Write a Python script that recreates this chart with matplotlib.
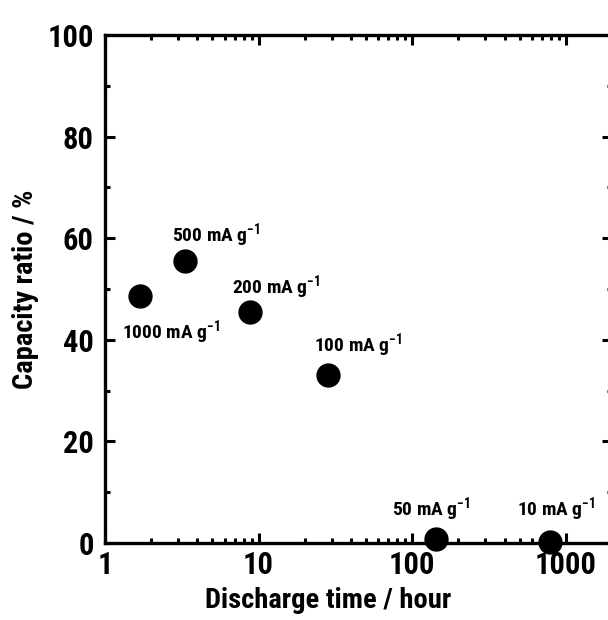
import matplotlib
matplotlib.use('Agg')
import matplotlib.pyplot as plt
from matplotlib.ticker import LogLocator, NullFormatter, FixedLocator

plt.rcParams['font.family'] = ['Roboto Condensed', 'Liberation Sans', 'DejaVu Sans']
plt.rcParams['font.weight'] = 'bold'
plt.rcParams['mathtext.fontset'] = 'custom'
plt.rcParams['mathtext.bf'] = 'Roboto Condensed:bold'
plt.rcParams['mathtext.rm'] = 'Roboto Condensed:bold'
plt.rcParams['mathtext.default'] = 'bf'

# discharge time (h) vs capacity ratio (%)
currents = ['1000', '500', '200', '100', '50', '10']
disch_time = [1.69, 3.3, 8.8, 28.5, 144, 785]
cap_ratio = [48.6, 55.5, 45.5, 33.0, 0.8, 0.2]
# label offsets in pixels from each point
offsets = [(31, -36), (31, 26), (26, 25), (30, 30), (-5, 30), (6, 33)]

fig = plt.figure(figsize=(6.08, 6.2), dpi=100)
ax = fig.add_axes([105/608, 1-543/620, 507/608, 508/620])

ax.plot(disch_time, cap_ratio, 'o', color='black', markersize=16.5, clip_on=False, zorder=5)

for cur, x, y, off in zip(currents, disch_time, cap_ratio, offsets):
    ax.annotate(cur + r' mA g$^{-1}$', (x, y), xytext=off, textcoords='offset pixels',
                ha='center', va='center', fontsize=14, fontweight='bold')

ax.set_xscale('log')
ax.set_xlim(1, 2000)
ax.set_ylim(0, 100)
ax.set_xticks([1, 10, 100, 1000])
ax.set_xticklabels(['1', '10', '100', '1000'])
ax.xaxis.set_minor_locator(LogLocator(base=10, subs=range(2, 10)))
ax.xaxis.set_minor_formatter(NullFormatter())
ax.set_yticks([0, 20, 40, 60, 80, 100])
ax.yaxis.set_minor_locator(FixedLocator([10, 30, 50, 70, 90]))

ax.tick_params(which='both', direction='in', top=True, right=True, width=2.2)
ax.tick_params(which='major', length=7, labelsize=22)
ax.tick_params(which='minor', length=3.5)
ax.tick_params(axis='y', pad=8)
ax.tick_params(axis='x', pad=5)
for lab in ax.get_xticklabels() + ax.get_yticklabels():
    lab.set_fontweight('bold')

for s in ax.spines.values():
    s.set_linewidth(2.4)

ax.set_xlabel('Discharge time / hour', fontsize=20.5, fontweight='bold')
ax.set_ylabel('Capacity ratio / %', fontsize=20.5, fontweight='bold')
ax.xaxis.set_label_coords(0.44, -0.087)
ax.yaxis.set_label_coords(-0.13, 0.5)

fig.savefig('out.png', dpi=100)
